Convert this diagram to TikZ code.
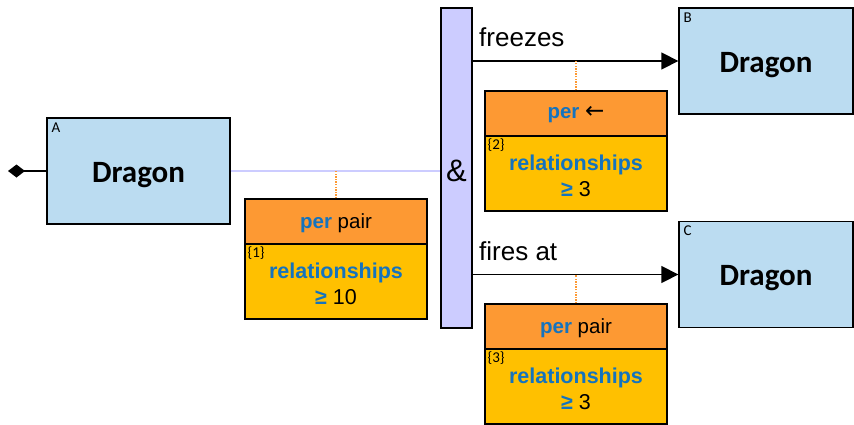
\documentclass[tikz,border=0pt]{standalone}
\usepackage{fontspec}
\setmainfont{Liberation Sans}
\newfontfamily\calfont{Carlito}
\newfontfamily\arrowfont{DejaVu Sans}
\usetikzlibrary{arrows.meta}
\definecolor{boxblue}{RGB}{187,220,241}
\definecolor{hdrorange}{RGB}{253,153,51}
\definecolor{bodyyellow}{RGB}{255,192,0}
\definecolor{barpurple}{RGB}{204,204,255}
\definecolor{txtblue}{RGB}{20,115,190}
\newcommand{\kw}[1]{\textcolor{txtblue}{\bfseries #1}}
\begin{document}
\begin{tikzpicture}[x=1pt,y=-1pt,
  entity/.style={draw=black, line width=1.3pt, fill=boxblue, inner sep=0pt,
    minimum width=174pt, minimum height=106pt},
  dragontext/.style={inner sep=0pt, font=\calfont\bfseries\fontsize{31}{36}\selectfont},
  hdr/.style={draw=black, line width=1.3pt, fill=hdrorange, inner sep=0pt,
    minimum width=182pt, minimum height=45pt},
  hdrtext/.style={inner sep=0pt, font=\fontsize{20.5}{24}\selectfont},
  bodybox/.style={draw=black, line width=1.3pt, fill=bodyyellow, inner sep=0pt,
    minimum width=182pt, minimum height=75pt},
  bodytext/.style={inner sep=0pt, align=center, font=\fontsize{21.5}{26}\selectfont},
  tag/.style={inner sep=0pt, font=\calfont\fontsize{15}{17}\selectfont},
  rel/.style={line width=1.3pt},
  arr/.style={line width=1.3pt, -{Triangle[length=17pt,width=17pt]}},
  dotline/.style={draw=hdrorange, line width=1.2pt, dash pattern=on 1.3pt off 1.3pt},
  lbl/.style={inner sep=0pt, anchor=west, font=\fontsize{26}{30}\selectfont}
]
\useasboundingbox (0,0) rectangle (854,424);

% entities
\node[entity, minimum width=183pt] (A) at (138.5,171) {};
\node[entity] (B) at (766,61) {};
\node[entity] (C) at (766,274.5) {};
\node[dragontext] (dA) at ([yshift=-4pt]A.center) {Dragon};
\node[dragontext] (dB) at ([yshift=-4pt]B.center) {Dragon};
\node[dragontext] (dC) at ([yshift=-4pt]C.center) {Dragon};
\node[tag, anchor=north west] (tA) at ([xshift=5pt,yshift=-5pt]A.north west) {A};
\node[tag, anchor=north west] (tB) at ([xshift=5pt,yshift=-5pt]B.north west) {B};
\node[tag, anchor=north west] (tC) at ([xshift=5pt,yshift=-5pt]C.north west) {C};

% the & bar
\node[draw=black, line width=1.3pt, fill=barpurple, inner sep=0pt,
  minimum width=31pt, minimum height=320pt] (and) at (456.5,168) {};
\node[inner sep=0pt, font=\fontsize{31}{34}\selectfont] (amp) at ([yshift=-3pt]and.center) {\&};

% per boxes
\node[hdr] (p1h) at (336,221.5) {};
\node[hdrtext] (h1) at ([yshift=-1.5pt]p1h.center) {\kw{per} pair};
\node[bodybox] (p1b) at (336,281.5) {};
\node[bodytext] (r1) at ([yshift=-2pt]p1b.center) {\kw{relationships}\\\kw{≥} 10};
\node[tag, anchor=north west] (t1) at ([xshift=3pt,yshift=-3pt]p1b.north west) {\{1\}};

\node[hdr] (p2h) at (576,113.5) {};
\node[hdrtext] (h2) at ([yshift=-1.5pt]p2h.center) {\kw{per} {\arrowfont\fontsize{23}{24}\selectfont ←}};
\node[bodybox] (p2b) at (576,173.5) {};
\node[bodytext] (r2) at ([yshift=-2pt]p2b.center) {\kw{relationships}\\\kw{≥} 3};
\node[tag, anchor=north west] (t2) at ([xshift=3pt,yshift=-3pt]p2b.north west) {\{2\}};

\node[hdr] (p3h) at (576,326.5) {};
\node[hdrtext] (h3) at ([yshift=-1.5pt]p3h.center) {\kw{per} pair};
\node[bodybox] (p3b) at (576,386.5) {};
\node[bodytext] (r3) at ([yshift=-2pt]p3b.center) {\kw{relationships}\\\kw{≥} 3};
\node[tag, anchor=north west] (t3) at ([xshift=3pt,yshift=-3pt]p3b.north west) {\{3\}};

% connectors
\coordinate (dstart) at (8,171);
\draw[rel, {Diamond[length=17pt,width=13pt]}-] (dstart) -- (A.west);
\draw[draw=barpurple, line width=1.6pt] (A.east) -- (A.east -| and.west);
\draw[arr] (and.east |- B.west) -- (B.west);
\draw[arr] (and.east |- C.west) -- (C.west);
\draw[dotline] (p1h.north) -- (p1h.north |- A.east);
\draw[dotline] (p2h.north) -- (p2h.north |- B.west);
\draw[dotline] (p3h.north) -- (p3h.north |- C.west);

% labels
\node[lbl] (lf) at (479,37) {freezes};
\node[lbl] (lfa) at (479,251) {fires at};
\end{tikzpicture}
\end{document}
